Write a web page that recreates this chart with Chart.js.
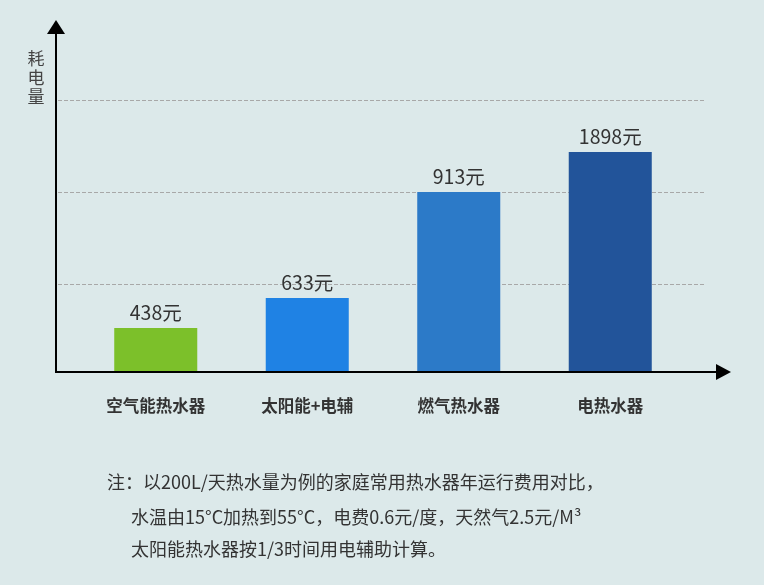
<!DOCTYPE html>
<html>
<head>
<meta charset="utf-8">
<script src="https://cdn.jsdelivr.net/npm/chart.js@4.4.0/dist/chart.umd.min.js"></script>
<style>
html,body{margin:0;padding:0;background:#dce9ea;}
#wrap{width:764px;height:585px;position:relative;}
</style>
</head>
<body>
<div id="wrap"><canvas id="c" width="764" height="585"></canvas></div>
<script>
// Data
const categories = ['空气能热水器', '太阳能+电辅', '燃气热水器', '电热水器'];
const annualCost = [438, 633, 913, 1898];          // 元 (shown labels)
const barHeights = [44, 74, 180, 220];             // drawn bar heights (axis units, estimated)
const gridValues = [88, 180, 272];                 // dashed reference lines (axis units)
const barColors = ['#7cc02a', '#1f82e4', '#2c7ac8', '#22549a'];
const yTitle = ['耗', '电', '量'];
const noteLines = [
  '注：以200L/天热水量为例的家庭常用热水器年运行费用对比，',
  '水温由15°C加热到55°C，电费0.6元/度，天然气2.5元/M³',
  '太阳能热水器按1/3时间用电辅助计算。'
];
const yMax = 352;

const FONT = '"Noto Sans CJK SC", "Noto Sans", sans-serif';

const decor = {
  id: 'decor',
  beforeDatasetsDraw(chart) {
    const ctx = chart.ctx;
    const y = chart.scales.y;
    const area = chart.chartArea;
    ctx.save();
    ctx.strokeStyle = '#a8a8a8';
    ctx.lineWidth = 1;
    ctx.setLineDash([4, 2]);
    gridValues.forEach(v => {
      const py = Math.round(y.getPixelForValue(v)) + 0.5;
      ctx.beginPath();
      ctx.moveTo(area.left - 22, py);
      ctx.lineTo(area.right + 18, py);
      ctx.stroke();
    });
    ctx.restore();
  },
  afterDatasetsDraw(chart) {
    const ctx = chart.ctx;
    const xs = chart.scales.x;
    const ys = chart.scales.y;
    const area = chart.chartArea;
    const base = ys.getPixelForValue(0);
    const axisX = area.left - 24;
    const top = ys.getPixelForValue(yMax);
    ctx.save();
    // axes
    ctx.strokeStyle = '#000';
    ctx.fillStyle = '#000';
    ctx.lineWidth = 2;
    ctx.setLineDash([]);
    ctx.beginPath();
    ctx.moveTo(axisX, base);
    ctx.lineTo(axisX, top + 12);
    ctx.moveTo(axisX - 1, base);
    ctx.lineTo(area.right + 32, base);
    ctx.stroke();
    // y arrow
    ctx.beginPath();
    ctx.moveTo(axisX, top);
    ctx.lineTo(axisX - 9, top + 14);
    ctx.lineTo(axisX + 9, top + 14);
    ctx.closePath();
    ctx.fill();
    // x arrow
    const tipX = area.right + 45;
    ctx.beginPath();
    ctx.moveTo(tipX, base);
    ctx.lineTo(tipX - 15, base - 8);
    ctx.lineTo(tipX - 15, base + 8);
    ctx.closePath();
    ctx.fill();

    // value labels
    const meta = chart.getDatasetMeta(0);
    ctx.fillStyle = '#333';
    ctx.font = '19.5px ' + FONT;
    ctx.textAlign = 'center';
    ctx.textBaseline = 'middle';
    meta.data.forEach((el, i) => {
      ctx.fillText(annualCost[i] + '元', el.x, el.y - 15);
    });
    // category labels
    ctx.font = 'bold 16.5px ' + FONT;
    categories.forEach((c, i) => {
      ctx.fillText(c, xs.getPixelForValue(i), base + 34);
    });
    // y title
    ctx.fillStyle = '#444';
    ctx.font = '17px ' + FONT;
    yTitle.forEach((ch, i) => {
      ctx.fillText(ch, 36, 59 + i * 19);
    });
    // notes
    ctx.fillStyle = '#333';
    ctx.font = '18px ' + FONT;
    ctx.textAlign = 'left';
    ctx.fillText(noteLines[0], 107, 482);
    ctx.fillText(noteLines[1], 131, 517);
    ctx.fillText(noteLines[2], 131, 549);
    ctx.restore();
  }
};

new Chart(document.getElementById('c'), {
  type: 'bar',
  data: {
    labels: categories,
    datasets: [{
      data: barHeights,
      backgroundColor: barColors,
      borderWidth: 0,
      categoryPercentage: 1,
      barPercentage: 0.548
    }]
  },
  options: {
    responsive: false,
    animation: false,
    devicePixelRatio: 1,
    layout: { padding: { left: 80, right: 78, top: 20, bottom: 213 } },
    plugins: { legend: { display: false }, tooltip: { enabled: false } },
    scales: {
      x: { display: false },
      y: { display: false, min: 0, max: yMax }
    }
  },
  plugins: [decor]
});
</script>
</body>
</html>
